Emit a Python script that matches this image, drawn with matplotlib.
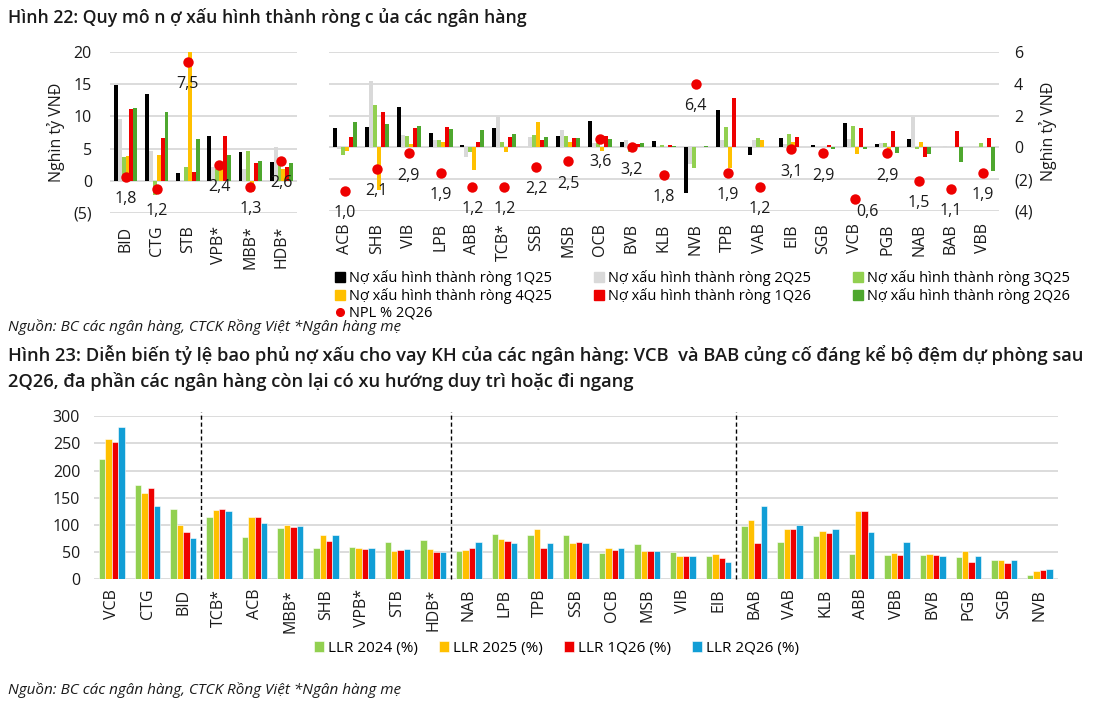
import numpy as np
import matplotlib.pyplot as plt
from matplotlib.patches import Patch
from matplotlib.lines import Line2D

plt.rcParams['font.family'] = ['Open Sans', 'DejaVu Sans']

# ---- Hinh 22: net NPL formation (nghin ty VND) ----
big_banks = ["BID", "CTG", "STB", "VPB*", "MBB*", "HDB*"]
big_1q25 = [14.9, 13.5, 1.2, 7.0, 4.5, 2.9]
big_2q25 = [9.6, 4.7, 0.0, 2.2, 1.8, 5.3]
big_3q25 = [3.7, -2.2, 2.2, 1.8, 4.6, 2.7]
big_4q25 = [3.9, 4.0, 21.0, 2.4, -1.7, 1.8]
big_1q26 = [11.1, 6.7, 1.4, 6.9, 2.7, 2.2]
big_2q26 = [11.3, 10.7, 6.5, 4.0, 3.1, 2.8]
big_npl = [1.8, 1.2, 7.5, 2.4, 1.3, 2.6]

small_banks = ["ACB", "SHB", "VIB", "LPB", "ABB", "TCB*", "SSB", "MSB", "OCB", "BVB", "KLB",
               "NVB", "TPB", "VAB", "EIB", "SGB", "VCB", "PGB", "NAB", "BAB", "VBB"]
small_1q25 = [1.2, 1.27, 2.52, 0.9, 0.17, 1.23, 0.0, 0.73, 1.67, 0.31, 0.4,
              -2.9, 2.35, -0.48, 0.58, 0.12, 1.54, 0.19, 0.54, 0.05, 0.0]
small_2q25 = [-0.1, 4.19, 0.8, 0.48, -0.58, 1.88, 0.67, 1.1, 0.25, 0.48, 0.1,
              -1.05, 0.46, 0.44, 0.2, 0.0, 0.54, 0.29, 1.88, 0.1, 0.0]
small_3q25 = [-0.46, 2.69, 0.7, 0.48, -0.3, 0.35, 0.8, 0.7, 0.25, -0.3, 0.17,
              -1.31, 1.27, 0.58, 0.83, 0.0, 1.35, 0.25, -0.1, 0.0, 0.25]
small_4q25 = [-0.2, -2.69, 0.23, 0.37, -1.4, -0.3, 1.58, 0.37, -0.25, 0.0, 0.0,
              0.0, -1.29, 0.48, 0.35, 0.0, -0.42, -0.2, 0.31, 0.0, 0.0]
small_1q26 = [0.67, 2.25, 1.19, 1.27, 0.37, 0.67, 0.46, 0.58, 0.7, 0.2, 0.17,
              0.05, 3.08, 0.0, 0.63, 0.17, 1.21, 1.0, -0.6, 1.02, 0.6]
small_2q26 = [1.6, 1.5, 1.35, 1.17, 1.1, 0.85, 0.67, 0.58, 0.5, 0.27, 0.1,
              0.1, 0.0, 0.05, 0.0, -0.1, -0.1, -0.38, -0.44, -0.92, -1.46]
small_npl = [1.0, 2.1, 2.9, 1.9, 1.2, 1.2, 2.2, 2.5, 3.6, 3.2, 1.8,
             6.4, 1.9, 1.2, 3.1, 2.9, 0.6, 2.9, 1.5, 1.1, 1.9]

series_names = ["Nợ xấu hình thành ròng 1Q25", "Nợ xấu hình thành ròng 2Q25",
                "Nợ xấu hình thành ròng 3Q25", "Nợ xấu hình thành ròng 4Q25",
                "Nợ xấu hình thành ròng 1Q26", "Nợ xấu hình thành ròng 2Q26"]
series_colors = ["#000000", "#D9D9D9", "#92D050", "#FFC000", "#EE0000", "#4EA72E"]

# ---- Hinh 23: LLR (%) ----
llr_banks = ["VCB", "CTG", "BID", "TCB*", "ACB", "MBB*", "SHB", "VPB*", "STB", "HDB*",
             "NAB", "LPB", "TPB", "SSB", "OCB", "MSB", "VIB", "EIB",
             "BAB", "VAB", "KLB", "ABB", "VBB", "BVB", "PGB", "SGB", "NVB"]
llr_2024 = [222, 174, 130, 114, 78, 95, 58, 59, 68, 72,
            52, 83, 81, 82, 48, 64, 49, 42,
            97, 69, 79, 46, 44, 45, 40, 35, 7]
llr_2025 = [259, 159, 100, 128, 114, 100, 82, 57, 51, 56,
            54, 74, 93, 67, 57, 51, 43, 46,
            108, 92, 88, 125, 48, 46, 51, 36, 15]
llr_1q26 = [253, 167, 86, 130, 114, 96, 71, 55, 53, 50,
            57, 70, 58, 68, 53, 51, 43, 38,
            67, 92, 85, 125, 44, 45, 31, 29, 17]
llr_2q26 = [280, 134, 75, 125, 104, 98, 82, 57, 56, 50,
            68, 67, 66, 66, 57, 51, 43, 32,
            134, 100, 92, 87, 68, 43, 43, 35, 18]
llr_names = ["LLR 2024 (%)", "LLR 2025 (%)", "LLR 1Q26 (%)", "LLR 2Q26 (%)"]
llr_colors = ["#92D050", "#FFC000", "#EE0000", "#119ED6"]

GRID = "#D9D9D9"
TXT = "#1a1a1a"
FS = 11.5

# labels that sit next to the dot instead of under it
label_shift = {"VCB": (9, -9)}


def style_axis(ax):
    for s in ax.spines.values():
        s.set_visible(False)
    ax.tick_params(length=0, labelsize=FS, colors=TXT)
    ax.yaxis.grid(True, color=GRID, lw=1.3)
    ax.set_axisbelow(True)


def paren(v):
    return f"({abs(int(v))})" if v < 0 else f"{int(v)}"


def nplf_panel(ax, cats, data, npl, ylim, ticks):
    x = np.arange(len(cats))
    w = 0.125
    for i, (vals, c) in enumerate(zip(data, series_colors)):
        ax.bar(x + (i - 2.5) * w, vals, w, color=c, lw=0)
    ax.set_xlim(-0.5, len(cats) - 0.5)
    ax.set_ylim(*ylim)
    ax.set_yticks(ticks)
    ax.set_yticklabels([paren(t) for t in ticks])
    ax.set_xticks(x)
    ax.set_xticklabels(cats, rotation=90)
    style_axis(ax)
    ax.tick_params(axis="x", pad=9)
    # NPL dots on a hidden secondary scale
    ax2 = ax.twinx()
    ax2.set_ylim(0, 8)
    ax2.axis("off")
    ax2.plot(x, npl, "o", color="#EE0000", ms=7.5, mec="none")
    for xi, v, name in zip(x, npl, cats):
        ax2.annotate(f"{v:.1f}".replace(".", ","), (xi, v), xytext=label_shift.get(name, (0, -16)),
                     textcoords="offset points", ha="center", va="center",
                     fontsize=FS, color=TXT)
    return ax2


fig = plt.figure(figsize=(11, 7.14), dpi=100)

fig.text(0.007, 0.976, "Hình 22: Quy mô n ợ xấu hình thành ròng c ủa các ngân hàng",
         fontsize=12.7, fontweight="semibold", va="center", color=TXT)

# left panel (big banks)
axl = fig.add_axes([0.1, 0.7017, 0.170, 0.2255])
nplf_panel(axl, big_banks, [big_1q25, big_2q25, big_3q25, big_4q25, big_1q26, big_2q26],
           big_npl, (-5, 20), [-5, 0, 5, 10, 15, 20])
axl.tick_params(axis="y", pad=13)
axl.set_ylabel("Nghìn tỷ VNĐ", fontsize=FS, color=TXT)
axl.yaxis.set_label_coords(-0.24, 0.5)

# right panel (other banks)
axr = fig.add_axes([0.299, 0.7045, 0.609, 0.2227])
nplf_panel(axr, small_banks, [small_1q25, small_2q25, small_3q25, small_4q25, small_1q26, small_2q26],
           small_npl, (-4, 6), [-4, -2, 0, 2, 4, 6])
axr.yaxis.tick_right()
axr.yaxis.set_label_position("right")
axr.tick_params(axis="y", pad=11)
axr.set_ylabel("Nghìn tỷ VNĐ", fontsize=FS, color=TXT)
axr.yaxis.set_label_coords(1.06, 0.5)

# top legend (ordered for column-wise fill)
h = [Patch(color=c) for c in series_colors]
npl_h = Line2D([], [], marker="o", ls="none", color="#EE0000", ms=5.5)
order_h = [h[0], h[3], npl_h, h[1], h[4], h[2], h[5]]
order_l = [series_names[0], series_names[3], "NPL % 2Q26", series_names[1],
           series_names[4], series_names[2], series_names[5]]
fig.legend(order_h, order_l, loc="upper left", bbox_to_anchor=(0.298, 0.632), ncol=3,
           frameon=False, fontsize=10.5, handlelength=0.65, handleheight=0.65,
           handletextpad=0.3, columnspacing=2.9, labelspacing=0.12, borderpad=0)

fig.text(0.007, 0.542, "Nguồn: BC các ngân hàng, CTCK Rồng Việt *Ngân hàng mẹ",
         fontsize=11, style="italic", va="center", color=TXT)

fig.text(0.007, 0.485,
         "Hình 23: Diễn biến tỷ lệ bao phủ nợ xấu cho vay KH của các ngân hàng: VCB  và BAB củng cố đáng kể bộ đệm dự phòng sau\n"
         "2Q26, đa phần các ngân hàng còn lại có xu hướng duy trì hoặc đi ngang",
         fontsize=13.2, fontweight="semibold", va="center", linespacing=1.45, color=TXT)

# bottom chart
axb = fig.add_axes([0.0855, 0.189, 0.876, 0.228])
xb = np.arange(len(llr_banks))
wb = 0.18
for i, (vals, c) in enumerate(zip([llr_2024, llr_2025, llr_1q26, llr_2q26], llr_colors)):
    axb.bar(xb + (i - 1.5) * wb, vals, wb, color=c, edgecolor="white", lw=0.4, label=llr_names[i])
axb.set_xlim(-0.5, len(llr_banks) - 0.5)
axb.set_ylim(0, 300)
axb.set_yticks(range(0, 301, 50))
axb.set_xticks(xb)
axb.set_xticklabels(llr_banks, rotation=90)
style_axis(axb)
axb.tick_params(axis="y", pad=10)
axb.tick_params(axis="x", pad=7)
axb.vlines([2.5, 9.5, 17.5], 0, 308, colors="black", linestyles=(0, (3, 2)), lw=1, clip_on=False)

fig.legend(*axb.get_legend_handles_labels(), loc="center", bbox_to_anchor=(0.506, 0.092),
           ncol=4, frameon=False, fontsize=11, handlelength=0.65, handleheight=0.65,
           handletextpad=0.3, columnspacing=1.35)

fig.text(0.007, 0.034, "Nguồn: BC các ngân hàng, CTCK Rồng Việt *Ngân hàng mẹ",
         fontsize=11, style="italic", va="center", color=TXT)

fig.savefig("out.png", dpi=100)
